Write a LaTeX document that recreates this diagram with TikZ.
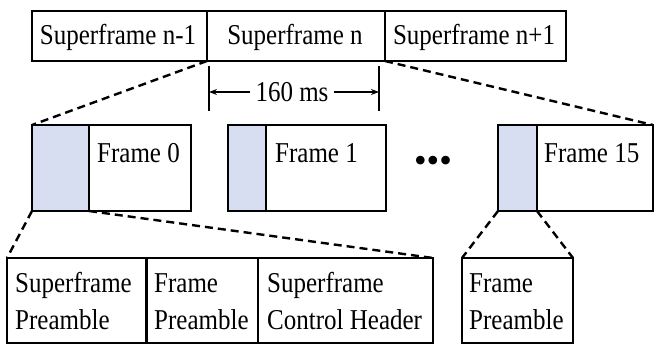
\documentclass[tikz,border=0pt]{standalone}
\usepackage{fontspec}
\setmainfont{Liberation Serif}
\usetikzlibrary{arrows.meta}
\definecolor{pre}{HTML}{D8DEF2}
\newcommand\tx[1]{\scalebox{1}[1.15]{#1}}
\begin{document}
\begin{tikzpicture}[x=1pt,y=-1pt,
  box/.style={draw=black, line width=2.4pt, rectangle, inner sep=0pt, outer sep=0pt},
  prebox/.style={box, fill=pre},
  lbl/.style={inner sep=0pt, font=\fontsize{25}{32}\selectfont},
  dsh/.style={draw=black, line width=2.4pt, dash pattern=on 8pt off 5pt},
  dim/.style={draw=black, line width=1.6pt}]
\useasboundingbox (0,0) rectangle (655,345);
% top row
\node[box, minimum width=175pt, minimum height=50pt] (sfA) at (119.5,36) {};
\node[box, minimum width=178pt, minimum height=50pt] (sfB) at (296,36) {};
\node[box, minimum width=181pt, minimum height=50pt] (sfC) at (475.5,36) {};
\node[lbl, anchor=base] (sfAt) at (118,45) {\tx{Superframe n-1}};
\node[lbl, anchor=base] (sfBt) at (295,45) {\tx{Superframe n}};
\node[lbl, anchor=base] (sfCt) at (474,45) {\tx{Superframe n+1}};
% dimension
\coordinate (tLa) at (209,66); \coordinate (tLb) at (209,111);
\coordinate (tRa) at (379,66); \coordinate (tRb) at (379,111);
\draw[dim] (tLa) -- (tLb);
\draw[dim] (tRa) -- (tRb);
\node[lbl, anchor=base] (ms) at (292,101) {\tx{160 ms}};
\coordinate (aL) at (209,92); \coordinate (aR) at (379,92);
\draw[dim, -{Stealth[length=8pt,width=6pt]}] (ms.west |- aL) ++(-5,0) -- (aL);
\draw[dim, -{Stealth[length=8pt,width=6pt]}] (ms.east |- aR) ++(5,0) -- (aR);
% frame row
\node[box, minimum width=159pt, minimum height=86pt] (f0) at (111.5,168) {};
\node[prebox, minimum width=57pt, minimum height=86pt] (p0) at (60.5,168) {};
\node[box, minimum width=158pt, minimum height=86pt] (f1) at (307,168) {};
\node[prebox, minimum width=38pt, minimum height=86pt] (p1) at (247,168) {};
\node[box, minimum width=155pt, minimum height=86pt] (f15) at (575.5,168) {};
\node[prebox, minimum width=39pt, minimum height=86pt] (p15) at (517.5,168) {};
\node[lbl, anchor=base west] (f0t) at (97,162) {\tx{Frame 0}};
\node[lbl, anchor=base west] (f1t) at (275,162) {\tx{Frame 1}};
\node[lbl, anchor=base west] (f15t) at (544,162) {\tx{Frame 15}};
\node[lbl, font=\fontsize{36}{40}\selectfont] (dots) at (433,164) {•••};
% bottom row
\node[box, minimum width=140pt, minimum height=85pt] (b1) at (77,300.5) {};
\node[box, minimum width=111pt, minimum height=85pt] (b2) at (202.5,300.5) {};
\node[box, minimum width=175pt, minimum height=85pt] (b3) at (345.5,300.5) {};
\node[box, minimum width=111pt, minimum height=85pt] (b4) at (517.5,300.5) {};
\draw[line width=1pt] ([xshift=-2pt]b1.north east) -- ([xshift=-2pt]b1.south east);
\node[lbl, anchor=north west, align=left] (b1t) at (15,267) {\tx{\begin{tabular}{@{}l@{}}Superframe\\Preamble\end{tabular}}};
\node[lbl, anchor=north west, align=left] (b2t) at (154,267) {\tx{\begin{tabular}{@{}l@{}}Frame\\Preamble\end{tabular}}};
\node[lbl, anchor=north west, align=left] (b3t) at (267,267) {\tx{\begin{tabular}{@{}l@{}}Superframe\\Control Header\end{tabular}}};
\node[lbl, anchor=north west, align=left] (b4t) at (469,267) {\tx{\begin{tabular}{@{}l@{}}Frame\\Preamble\end{tabular}}};
% dashed connectors
\draw[dsh] (sfA.south east) -- (f0.north west);
\draw[dsh] (sfB.south east) -- (f15.north east);
\draw[dsh] (p0.south west) -- (b1.north west);
\draw[dsh] (p0.south east) -- (b3.north east);
\draw[dsh] (p15.south west) -- (b4.north west);
\draw[dsh] (p15.south east) -- (b4.north east);
\end{tikzpicture}
\end{document}
